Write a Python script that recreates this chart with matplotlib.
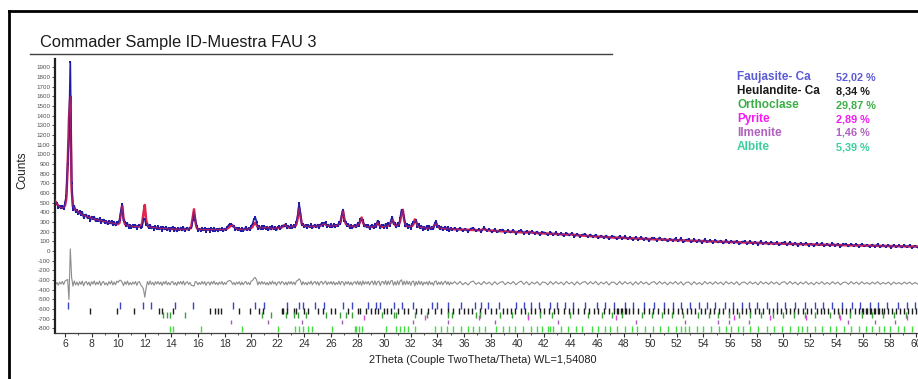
import numpy as np
import matplotlib
matplotlib.use("Agg")
import matplotlib.pyplot as plt
from matplotlib.lines import Line2D

plt.rcParams['font.family'] = ['Liberation Sans', 'DejaVu Sans']
plt.rcParams['axes.unicode_minus'] = False

# 2Theta sampling: 0.1 deg up to 35.1, then 0.2 deg up to 70.1
two_theta = np.concatenate([np.arange(300) * 0.1 + 5.2, np.arange(175) * 0.2 + 35.3])

# calculated profile (counts)
calc_counts = [
    527, 505, 485, 468, 455, 447, 445, 450, 468, 540,
    860, 1370, 1600, 640, 455, 440, 425, 412, 402, 392,
    384, 377, 370, 364, 358, 352, 347, 342, 338, 334,
    330, 326, 322, 318, 315, 312, 309, 306, 303, 300,
    297, 294, 291, 288, 285, 282, 279, 277, 278, 290,
    380, 470, 340, 278, 266, 262, 259, 257, 255, 253,
    252, 251, 250, 250, 252, 258, 285, 390, 475, 320,
    262, 250, 246, 244, 242, 240, 238, 236, 235, 234,
    233, 232, 231, 230, 229, 228, 228, 227, 226, 226,
    225, 225, 224, 224, 223, 223, 223, 222, 222, 223,
    224, 226, 232, 255, 340, 430, 305, 240, 226, 222,
    221, 220, 220, 219, 219, 219, 218, 218, 218, 218,
    218, 218, 218, 219, 219, 220, 220, 221, 223, 226,
    231, 240, 252, 262, 264, 250, 236, 228, 224, 222,
    222, 222, 222, 223, 224, 225, 227, 230, 236, 250,
    275, 290, 268, 248, 240, 237, 236, 238, 242, 240,
    237, 235, 234, 233, 233, 233, 234, 235, 236, 237,
    239, 243, 252, 268, 262, 250, 244, 245, 248, 250,
    252, 258, 275, 340, 445, 365, 285, 265, 258, 256,
    255, 254, 254, 253, 253, 253, 254, 255, 256, 258,
    260, 265, 274, 282, 274, 264, 260, 258, 257, 257,
    258, 260, 262, 266, 274, 295, 350, 415, 335, 285,
    266, 260, 257, 255, 254, 253, 254, 256, 262, 275,
    310, 345, 295, 264, 255, 251, 249, 248, 248, 248,
    250, 254, 266, 295, 272, 256, 251, 250, 251, 254,
    258, 263, 272, 290, 325, 300, 268, 260, 262, 272,
    310, 390, 425, 320, 268, 256, 252, 251, 252, 258,
    275, 325, 300, 262, 250, 245, 242, 240, 238, 237,
    236, 235, 234, 235, 238, 248, 268, 285, 260, 243,
    236, 233, 231, 230, 229, 228, 227, 226, 225, 224,
    223, 222, 221, 220, 219, 218, 217, 216, 215, 214,
    216, 224, 216, 211, 209, 207, 205, 204, 202, 201,
    200, 198, 197, 195, 194, 192, 191, 190, 196, 190,
    186, 184, 183, 181, 180, 178, 177, 176, 174, 173,
    171, 170, 168, 167, 171, 165, 162, 160, 158, 157,
    155, 153, 151, 149, 147, 146, 144, 142, 141, 139,
    138, 136, 135, 137, 133, 131, 130, 129, 127, 126,
    125, 124, 123, 122, 121, 119, 118, 120, 117, 115,
    114, 113, 112, 111, 110, 112, 108, 107, 106, 105,
    104, 103, 102, 101, 100, 99, 98, 97, 96, 95,
    94, 93, 92, 91, 90, 93, 89, 88, 87, 86,
    85, 84, 83, 82, 81, 81, 80, 79, 78, 77,
    76, 76, 75, 74, 73, 73, 72, 71, 71, 70,
    69, 69, 68, 67, 67, 66, 65, 65, 64, 63,
    63, 62, 62, 61, 60, 60, 59, 59, 58, 57,
    57, 56, 56, 55, 55, 54, 53, 53, 52, 52,
    51, 51, 50, 50, 49, 49, 48, 48, 47, 47,
    46, 46, 45, 45, 44,
]

# observed minus calculated
diff_counts = [
    15, -12, 8, -20, 12, -8, 18, -14, 22, 30,
    40, -170, 355, 60, -30, 24, -18, 12, -22, 16,
    -12, 22, -26, 8, 18, -16, 12, -28, 16, -8,
    24, -18, 12, -12, 22, -24, 8, 18, -16, 4,
    -22, 16, -8, 24, -18, 12, -16, 22, 8, 30,
    30, 10, -25, 16, -12, 22, -18, 8, -16, 12,
    -8, 18, -22, 12, 16, -18, -35, -60, -145, -50,
    18, -16, 24, -12, 8, -22, 16, -8, 18, -12,
    12, -24, 16, -8, 22, -16, 8, -18, 12, 18,
    -16, 8, -22, 16, -8, 18, -12, 22, -18, 8,
    16, -12, 8, -22, -25, -30, 18, 12, -16, 8,
    -12, 18, -8, 16, -22, 8, 12, -18, 16, -8,
    22, -12, 8, -18, 12, -8, 18, -16, 8, -12,
    16, 24, 28, 18, -12, 8, -18, 12, -8, 16,
    -18, 12, -16, 8, 18, -12, 8, -16, 22, 28,
    50, 60, 35, -18, 16, -12, 18, -8, 12, -16,
    8, -18, 16, -12, 22, -8, 12, -22, 8, 16,
    -12, 18, 8, -16, 12, -18, 16, -8, 18, -12,
    12, -16, 22, 28, 45, 30, -18, 16, -12, 8,
    -18, 12, -8, 22, -16, 8, 18, -12, 16, -22,
    12, 18, -12, 8, 22, -16, 12, -8, 18, -12,
    16, -18, 8, -12, 22, -16, 18, 12, -22, 16,
    -8, 18, -16, 12, -18, 8, 16, -12, 22, -16,
    18, -22, 24, -12, 16, -8, 18, -18, 12, 22,
    -16, 24, -18, 16, 22, -24, 12, 18, -12, 26,
    -18, 22, -12, 24, 28, -22, 16, -18, 24, -16,
    25, 35, -18, 22, -16, 24, -12, 18, -22, 16,
    22, -26, 18, -16, 24, -12, 18, -22, 12, -8,
    16, -18, 22, -12, 8, -22, 18, 24, -16, 12,
    -12, 18, -16, 8, 22, -12, 16, -18, 12, -8,
    16, -12, 18, -16, 8, -18, 12, 22, -12, 8,
    -16, 18, -8, 12, -18, 16, -12, 8, 18, -16,
    12, -8, 18, -16, 8, 22, -12, 16, -18, 12,
    -8, 16, -18, 12, 8, -16, 18, -12, 16, -8,
    12, -16, 18, -8, 12, -18, 16, -12, 8, 18,
    -12, 16, -8, 18, -16, 12, -8, 16, -18, 12,
    8, -16, 18, -12, 16, -8, 12, -18, 16, -12,
    18, -8, 12, -16, 8, 16, -12, 18, -8, 12,
    -16, 12, -8, 18, -12, 16, -18, 8, 12, -16,
    16, -12, 8, -16, 18, -8, 12, -12, 16, -8,
    12, -16, 18, -8, 12, -12, 16, -18, 8, 12,
    -12, 16, -8, 12, -16, 18, -8, 12, -12, 16,
    -8, 12, -16, 8, 16, -12, 18, -8, 12, -16,
    12, -8, 16, -12, 8, -16, 12, -8, 16, -12,
    8, -12, 16, -8, 12, -16, 8, 12, -12, 16,
    -8, 12, -12, 16, -8, 8, -12, 12, -8, 16,
    -12, 8, -8, 12, -16, 12, -8, 8, -12, 12,
    -8, 12, -12, 8, -8,
]
diff_offset = -335

# reflection positions per phase (2Theta)
faujasite_pos = [6.25, 10.15, 11.85, 12.5, 14.3, 15.65, 18.6, 20.3, 21.0, 22.7, 23.6, 23.9,
                 24.8, 25.5, 26.9, 27.6, 28.8, 29.4, 29.7, 30.7, 31.3, 32.2, 33.6, 34.0, 34.8,
                 35.8, 36.8, 37.3, 37.8, 38.6, 39.9, 40.5, 41.0, 41.6, 42.5, 43.0, 43.6, 44.2,
                 45.1, 46.0, 46.6, 47.3, 48.1, 48.7, 49.5, 50.3, 51.0, 51.7, 52.3, 53.0, 53.7,
                 54.3, 54.9, 55.6, 56.2, 56.9, 57.4, 58.0, 58.8, 59.5, 60.1, 60.9, 61.6, 62.4,
                 63.0, 63.7, 64.4, 65.2, 65.8, 66.5, 67.1, 67.8, 68.6, 69.3, 69.9]
heulandite_pos = [7.9, 9.9, 11.2, 13.1, 13.3, 14.1, 16.9, 17.3, 17.5, 17.7, 19.1, 19.9, 20.6,
                  20.9, 22.3, 22.4, 22.7, 23.2, 23.4, 24.0, 24.3, 25.0, 25.4, 26.0, 26.3, 27.3,
                  28.0, 28.2, 28.6, 29.0, 29.3, 29.5, 30.0, 30.2, 30.5, 31.0, 31.5, 31.8, 32.4,
                  32.8, 33.3, 33.8, 34.3, 34.8, 35.2, 35.6, 36.0, 36.3, 36.6, 37.2, 37.6, 38.0,
                  38.4, 38.9, 39.2, 39.5, 39.8, 40.3, 40.6, 41.0, 41.3, 41.7, 42.0, 42.4, 42.8,
                  43.1, 43.5, 43.9, 44.2, 44.6, 45.0, 45.4, 45.8, 46.1, 46.5, 46.9, 47.3, 47.5,
                  47.6, 47.8, 47.9, 48.1, 48.2, 48.4, 48.7, 49.1, 49.5, 49.9, 50.2, 50.6, 51.0,
                  51.3, 51.7, 52.1, 52.4, 52.8, 53.1, 53.4, 53.8, 54.1, 54.5, 54.8, 55.2, 55.5,
                  55.9, 56.2, 56.5, 56.9, 57.2, 57.5, 57.9, 58.2, 58.5, 58.9, 59.2, 59.5, 59.8,
                  60.2, 60.5, 60.8, 61.1, 61.5, 61.8, 62.1, 62.5, 62.8, 63.1, 63.4, 63.8, 64.1,
                  64.4, 64.7, 65.0, 65.4, 65.7, 65.9, 66.0, 66.2, 66.3, 66.5, 66.6, 66.8, 66.9,
                  67.1, 67.2, 67.4, 67.6, 67.9, 68.2, 68.5, 68.8, 69.1, 69.4, 69.7, 70.0]
orthoclase_pos = [13.4, 13.7, 13.9, 15.0, 20.8, 21.5, 22.6, 23.2, 23.5, 24.1, 25.6, 26.7, 27.1,
                  27.6, 29.8, 30.7, 30.9, 32.3, 33.2, 34.8, 35.1, 36.9, 37.2, 38.7, 39.6, 40.8,
                  41.7, 42.6, 44.0, 45.3, 46.4, 47.1, 47.9, 49.4, 50.1, 50.9, 51.6, 52.5, 53.6,
                  54.4, 55.1, 55.9, 56.7, 57.5, 58.3, 59.2, 60.0, 60.8, 61.6, 62.4, 63.5, 64.2,
                  65.0, 65.9, 66.7, 67.5, 68.3, 69.2]
pyrite_pos = [28.5, 33.1, 37.1, 40.8, 47.4, 56.3, 59.0, 61.7, 64.3, 69.3]
ilmenite_pos = [18.5, 21.3, 23.8, 26.8, 32.2, 34.8, 38.3, 43.1, 48.9, 52.6, 55.1, 55.9, 57.4,
                64.9, 66.9, 68.4]
albite_pos = [13.9, 14.1, 16.2, 19.3, 22.0, 23.3, 23.6, 23.9, 24.3, 24.6, 26.1, 27.8, 27.9,
              28.1, 28.3, 30.1, 30.9, 31.2, 31.5, 31.8, 32.3, 33.8, 34.3, 34.7, 35.2, 35.8,
              36.3, 36.7, 37.1, 37.6, 38.4, 38.9, 39.4, 39.8, 40.4, 41.0, 41.5, 41.9, 42.3,
              42.5, 42.7, 43.3, 43.8, 44.4, 44.9, 45.6, 46.1, 46.6, 47.0, 47.5, 48.1, 48.6,
              49.0, 49.6, 50.2, 50.7, 51.3, 51.9, 52.3, 52.6, 52.9, 53.5, 54.0, 54.6, 55.2,
              55.7, 56.1, 56.6, 57.0, 57.5, 58.1, 58.8, 59.3, 59.9, 60.5, 61.1, 61.4, 61.8,
              62.4, 62.9, 63.5, 64.0, 64.6, 65.1, 65.7, 66.2, 66.7, 67.2, 67.6, 68.0, 68.6,
              69.1, 69.7]

phase_names = ["Faujasite- Ca", "Heulandite- Ca", "Orthoclase", "Pyrite", "Ilmenite", "Albite"]
phase_pct = ["52,02 %", "8,34 %", "29,87 %", "2,89 %", "1,46 %", "5,39 %"]
phase_colors = ["#5b5bd6", "#1a1a1a", "#3cae48", "#f21cf2", "#b062be", "#3ccf9c"]

x_tick_pos = list(range(6, 71, 2))
x_tick_labels = [str(v) for v in range(6, 59, 2)] + ["50", "52", "54", "56", "58", "60"]
y_tick_pos = list(range(-800, 2000, 100))

calc = np.array(calc_counts, dtype=float)
diff = np.array(diff_counts, dtype=float)
obs = calc + diff

W, H = 918, 379
fig = plt.figure(figsize=(W / 100, H / 100), dpi=100)
ax = fig.add_axes([55 / W, (H - 333) / H, 1 - 55 / W, (333 - 59) / H])

# calculated (red) under the observed points (blue)
ax.plot(two_theta, calc, color="#e0244e", lw=1.8, zorder=3)
ax.plot(two_theta, obs, color="#1c1ca6", lw=1.2, marker="s", ms=1.8, mew=0, zorder=4)
ax.plot(two_theta, calc, color="#e0244e", lw=0.7, alpha=0.75, zorder=5)

# difference curve
ax.plot(two_theta, diff + diff_offset, color="#8c8c8c", lw=0.8, zorder=2)

# reflection markers, one row per phase
rows = [
    (faujasite_pos, -600, -530, "#3a46c4"),
    (heulandite_pos, -650, -590, "#1e1e1e"),
    (orthoclase_pos, -690, -630, "#3e9e3e"),
    (pyrite_pos, -720, -668, "#d848d8"),
    (ilmenite_pos, -762, -712, "#a060b0"),
    (albite_pos, -835, -778, "#40dc40"),
]
for pos, lo, hi, col in rows:
    ax.vlines(pos, lo, hi, colors=col, lw=1.0, zorder=3)

ax.set_xlim(5.25, 70.13)
ax.set_ylim(-850, 1985)

ax.set_xticks(x_tick_pos)
ax.set_xticklabels(x_tick_labels, fontsize=7.5, color="#303030")
ax.set_xticks(np.arange(6, 71, 1), minor=True)
ax.set_yticks(y_tick_pos)
ax.set_yticklabels([str(v) for v in y_tick_pos], fontsize=4.5, color="#505050")

ax.tick_params(axis="x", which="major", length=3, width=0.8, color="#303030", pad=1.5)
ax.tick_params(axis="x", which="minor", length=1.5, width=0.6, color="#303030")
ax.tick_params(axis="y", which="major", length=2, width=0.6, color="#303030", pad=1.5)

for side in ("top", "right"):
    ax.spines[side].set_visible(False)
ax.spines["left"].set_linewidth(1.6)
ax.spines["left"].set_color("#202020")
ax.spines["bottom"].set_linewidth(0.9)
ax.spines["bottom"].set_color("#404040")

# axis titles
fig.text(22 / W, 1 - 170 / H, "Counts", rotation=90, ha="center", va="center",
         fontsize=8.5, color="#202020")
fig.text(483 / W, 1 - 360 / H, "2Theta (Couple TwoTheta/Theta) WL=1,54080",
         ha="center", va="center", fontsize=7.9, color="#202020")

# title with rule underneath
fig.text(40 / W, 1 - 42 / H, "Commader Sample ID-Muestra FAU 3", ha="left", va="center",
         fontsize=11.8, color="#1a1a1a")
fig.add_artist(Line2D([30 / W, 612 / W], [1 - 54 / H, 1 - 54 / H], color="#404040", lw=1.0))

# outer frame
fig.add_artist(Line2D([9 / W, 9 / W], [0, 1 - 11 / H], color="black", lw=2.0))
fig.add_artist(Line2D([9 / W, 1], [1 - 11 / H, 1 - 11 / H], color="black", lw=2.0))

# phase quantities
for i, (name, pct, col) in enumerate(zip(phase_names, phase_pct, phase_colors)):
    y = 1 - (77 + i * 14) / H
    fig.text(737 / W, y, name, ha="left", va="center", fontsize=8.5, fontweight="bold", color=col)
    fig.text(836 / W, y, pct, ha="left", va="center", fontsize=7.8, fontweight="bold", color=col)

fig.savefig("out.png", dpi=100)
